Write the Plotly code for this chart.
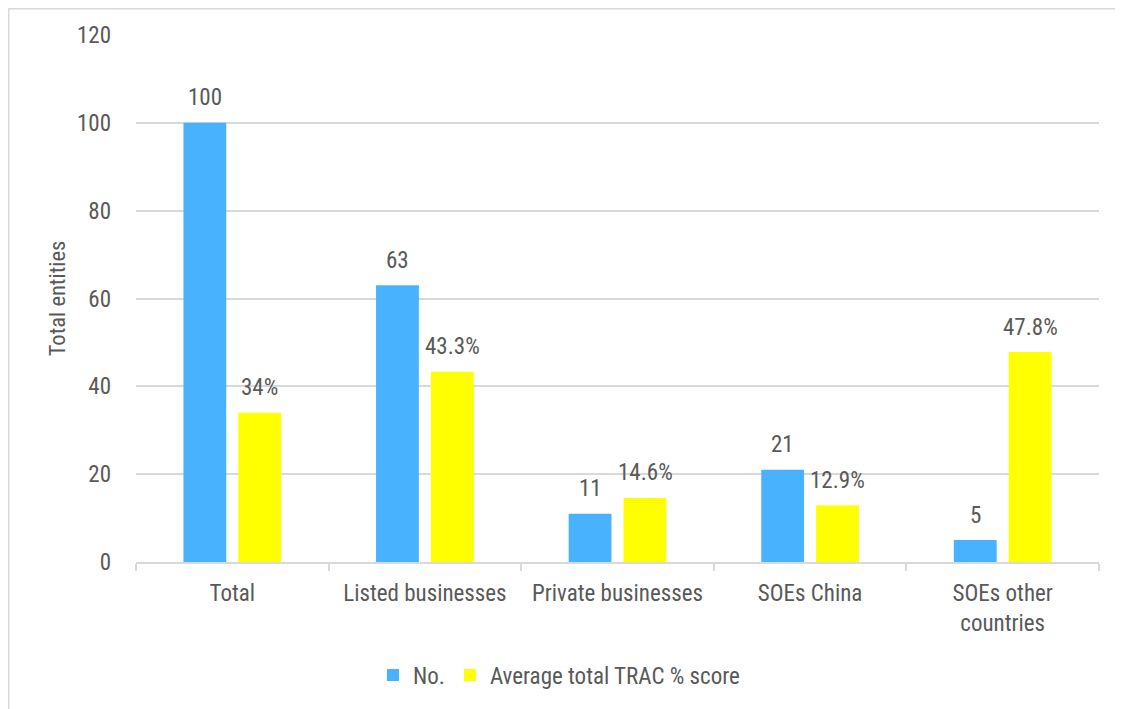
import plotly.graph_objects as go

# ---- data ----
categories = ["Total", "Listed businesses", "Private businesses", "SOEs China", "SOEs other<br>countries"]
counts = [100, 63, 11, 21, 5]
trac_scores = [34, 43.3, 14.6, 12.9, 47.8]
trac_labels = ["34%", "43.3%", "14.6%", "12.9%", "47.8%"]
count_labels = [str(v) for v in counts]
y_ticks = [0, 20, 40, 60, 80, 100, 120]

# ---- layout constants (figure pixels; page adds an 8px body margin) ----
W, H = 1115, 701
L, R, T, B = 128, 24, 27, 147
PW, PH = W - L - R, H - T - B
FONT = "Roboto Condensed, Arial Narrow, Liberation Sans, Arial, sans-serif"
FS = 23
TXT = "#595959"
GRID = "#d9d9d9"
BLUE = "#48B2FF"
YELLOW = "#FFFF00"


def px_x(p):
    return (p - L) / PW


def px_y(p):
    return (H - B - p) / PH


fig = go.Figure()
fig.add_bar(x=categories, y=counts, name="No.", legendgroup="a",
            marker=dict(color=BLUE, line=dict(width=0)))
fig.add_bar(x=categories, y=trac_scores, name="Average total TRAC % score", legendgroup="b",
            marker=dict(color=YELLOW, line=dict(width=0)))

# data labels
for c, v, t in zip(categories, counts, count_labels):
    fig.add_annotation(x=c, y=v, text=t, xshift=-27.5, yshift=25, showarrow=False,
                       yanchor="middle", font=dict(family=FONT, size=FS, color=TXT))
for c, v, t in zip(categories, trac_scores, trac_labels):
    fig.add_annotation(x=c, y=v, text=t, xshift=27.5, yshift=25, showarrow=False,
                       yanchor="middle", font=dict(family=FONT, size=FS, color=TXT))

# outer chart frame (top and left edges visible)
fig.add_shape(type="line", xref="paper", yref="paper", x0=px_x(0.5), x1=px_x(W + 5),
              y0=px_y(0.75), y1=px_y(0.75), line=dict(color=GRID, width=1.5))
fig.add_shape(type="line", xref="paper", yref="paper", x0=px_x(0.75), x1=px_x(0.75),
              y0=px_y(0.5), y1=px_y(H + 5), line=dict(color=GRID, width=1.5))

fig.update_layout(
    width=W, height=H,
    margin=dict(l=L, r=R, t=T, b=B),
    paper_bgcolor="white", plot_bgcolor="white",
    font=dict(family=FONT, size=FS, color=TXT),
    barmode="group", bargap=0.43, bargroupgap=0.22,
    showlegend=True,
    legend=dict(orientation="h", x=px_x(365), y=px_y(667), xanchor="left", yanchor="middle",
                font=dict(family=FONT, size=FS, color=TXT), itemwidth=30,
                tracegroupgap=14, traceorder="normal",
                bgcolor="rgba(0,0,0,0)"),
    xaxis=dict(
        showline=True, linecolor=GRID, linewidth=1.5,
        ticks="outside", tickson="boundaries", ticklen=7, tickcolor=GRID, tickwidth=1.5,
        showgrid=False, zeroline=False, automargin=False, ticklabelstandoff=10,
        tickfont=dict(family=FONT, size=FS, color=TXT),
    ),
    yaxis=dict(
        range=[0, 120], tickvals=y_ticks, ticks="", showline=False,
        showgrid=True, gridcolor=GRID, gridwidth=1.5, zeroline=False,
        ticklabelstandoff=24, automargin=False,
        tickfont=dict(family=FONT, size=FS, color=TXT),
        title=dict(text="Total entities", standoff=5, font=dict(family=FONT, size=22.5, color=TXT)),
    ),
)

fig.write_html("out.html")
